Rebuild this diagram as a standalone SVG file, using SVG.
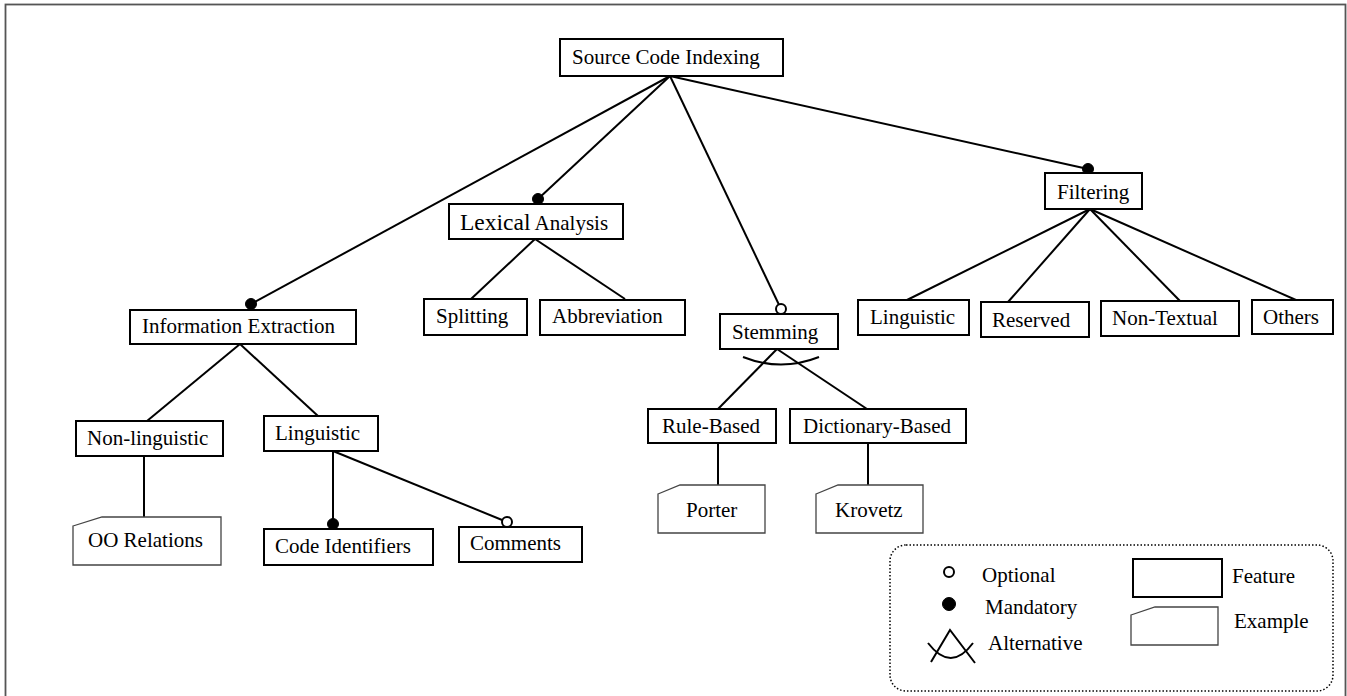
<svg xmlns="http://www.w3.org/2000/svg" width="1347" height="696" viewBox="0 0 1347 696">
<style>
.frame{fill:none;stroke:#555;stroke-width:1.8}
.feat{fill:#fff;stroke:#000;stroke-width:2}
.ex{fill:#fff;stroke:#444;stroke-width:1.3}
.con{fill:none;stroke:#000;stroke-width:2}
.man{fill:#000;stroke:#000;stroke-width:1}
.opt{fill:#fff;stroke:#000;stroke-width:2}
text{font-family:"Liberation Serif","Times New Roman",serif;font-size:21px;fill:#000}
.leg{fill:none;stroke:#000;stroke-width:1.5;stroke-dasharray:1.5 2}
</style>
<rect width="1347" height="696" fill="#fff"/>
<rect class="frame" x="5.5" y="4.5" width="1340" height="694"/>
<g id="connectors">
<line class="con" x1="670" y1="76" x2="251" y2="304"/>
<line class="con" x1="670" y1="76" x2="538" y2="199"/>
<line class="con" x1="670" y1="76" x2="781" y2="309"/>
<line class="con" x1="670" y1="76" x2="1088" y2="169"/>
<line class="con" x1="535" y1="239" x2="471" y2="299"/>
<line class="con" x1="535" y1="239" x2="625" y2="299"/>
<line class="con" x1="240" y1="344" x2="147" y2="421"/>
<line class="con" x1="240" y1="344" x2="318" y2="416"/>
<line class="con" x1="144" y1="456" x2="144" y2="517"/>
<line class="con" x1="333" y1="451" x2="333" y2="524"/>
<line class="con" x1="333" y1="451" x2="507" y2="522"/>
<line class="con" x1="777" y1="349" x2="718" y2="409"/>
<line class="con" x1="777" y1="349" x2="867" y2="409"/>
<path class="con" d="M743,357 Q781,372 819,357"/>
<line class="con" x1="718" y1="443" x2="718" y2="485"/>
<line class="con" x1="868" y1="443" x2="868" y2="485"/>
<line class="con" x1="1090" y1="209" x2="907" y2="300"/>
<line class="con" x1="1090" y1="209" x2="1008" y2="302"/>
<line class="con" x1="1090" y1="209" x2="1180" y2="301"/>
<line class="con" x1="1090" y1="209" x2="1296" y2="300"/>
<circle class="man" cx="251" cy="304" r="5.5"/>
<circle class="man" cx="538" cy="199" r="5.5"/>
<circle class="opt" cx="781" cy="309" r="5"/>
<circle class="man" cx="1088" cy="169" r="5.5"/>
<circle class="man" cx="333" cy="524" r="5.5"/>
<circle class="opt" cx="507" cy="522" r="5"/>
</g>
<g id="source-code-indexing"><rect class="feat" x="560" y="39" width="223" height="37"/><text x="572" y="64">Source Code Indexing</text></g>
<g id="information-extraction"><rect class="feat" x="130" y="310" width="226" height="34"/><text x="142" y="333">Information Extraction</text></g>
<g id="lexical-analysis"><rect class="feat" x="449" y="204" width="174" height="35"/><text x="460" y="230"><tspan style="font-size:23.5px">Lexical</tspan> <tspan>Analysis</tspan></text></g>
<g id="stemming"><rect class="feat" x="720" y="314" width="118" height="35"/><text x="732" y="339">Stemming</text></g>
<g id="filtering"><rect class="feat" x="1045" y="173" width="97" height="36"/><text x="1057" y="199">Filtering</text></g>
<g id="splitting"><rect class="feat" x="424" y="299" width="103" height="36"/><text x="436" y="323">Splitting</text></g>
<g id="abbreviation"><rect class="feat" x="540" y="300" width="145" height="35"/><text x="552" y="323">Abbreviation</text></g>
<g id="non-linguistic"><rect class="feat" x="76" y="421" width="147" height="35"/><text x="87" y="445">Non-linguistic</text></g>
<g id="linguistic-ie"><rect class="feat" x="264" y="416" width="114" height="35"/><text x="275" y="440">Linguistic</text></g>
<g id="oo-relations"><path class="ex" d="M73,526 L102,517 L221,517 L221,565 L73,565 Z"/><text x="88" y="547">OO Relations</text></g>
<g id="code-identifiers"><rect class="feat" x="264" y="529" width="169" height="36"/><text x="275" y="553">Code Identifiers</text></g>
<g id="comments"><rect class="feat" x="459" y="527" width="123" height="35"/><text x="470" y="550">Comments</text></g>
<g id="rule-based"><rect class="feat" x="648" y="409" width="128" height="34"/><text x="662" y="433">Rule-Based</text></g>
<g id="dictionary-based"><rect class="feat" x="790" y="409" width="176" height="34"/><text x="803" y="433">Dictionary-Based</text></g>
<g id="porter"><path class="ex" d="M658,494 L680,485 L765,485 L765,533 L658,533 Z"/><text x="686" y="517">Porter</text></g>
<g id="krovetz"><path class="ex" d="M816,494 L838,485 L923,485 L923,533 L816,533 Z"/><text x="835" y="517">Krovetz</text></g>
<g id="linguistic-f"><rect class="feat" x="858" y="300" width="111" height="35"/><text x="870" y="324">Linguistic</text></g>
<g id="reserved"><rect class="feat" x="981" y="302" width="108" height="35"/><text x="992" y="327">Reserved</text></g>
<g id="non-textual"><rect class="feat" x="1101" y="301" width="138" height="35"/><text x="1112" y="325">Non-Textual</text></g>
<g id="others"><rect class="feat" x="1252" y="300" width="81" height="34"/><text x="1263" y="324">Others</text></g>
<g id="legend">
<rect class="leg" x="890" y="545" width="443" height="146" rx="16" ry="16"/>
<circle class="opt" cx="949" cy="572" r="5"/>
<text x="982" y="582">Optional</text>
<circle class="man" cx="949" cy="604" r="6.5"/>
<text x="985" y="614">Mandatory</text>
<path class="con" d="M931,662 L950,630 L975,663"/>
<path class="con" d="M928,643 Q951,673 973,643"/>
<text x="988" y="650">Alternative</text>
<rect class="feat" x="1133" y="559" width="89" height="38"/>
<text x="1232" y="583">Feature</text>
<path class="ex" d="M1131,615 L1155,607 L1218,607 L1218,645 L1131,645 Z"/>
<text x="1234" y="628">Example</text>
</g>
</svg>
